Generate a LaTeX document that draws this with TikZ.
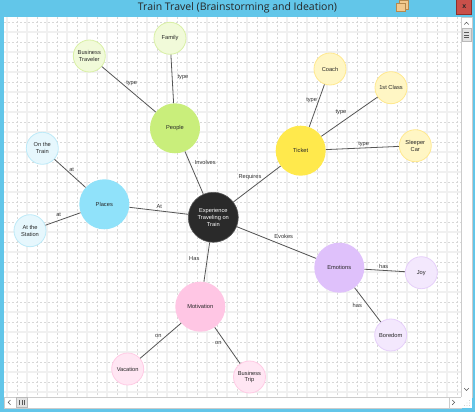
\documentclass[tikz,border=0pt]{standalone}
\usepackage{fontspec}
\setmainfont{Liberation Sans}
\newfontfamily\titlefont{Open Sans}
\definecolor{framec}{HTML}{62C6E9}
\definecolor{closered}{HTML}{C9504A}
\definecolor{closeedge}{HTML}{8E302B}
\definecolor{gridsolid}{HTML}{F0F0F0}
\definecolor{griddash}{HTML}{D8D8D8}
\definecolor{edgec}{HTML}{555555}
\definecolor{expfill}{HTML}{2A2A2A}
\definecolor{pplfill}{HTML}{C9EE7B}
\definecolor{pplleaf}{HTML}{F1FAD9}
\definecolor{pplrim}{HTML}{D9F0A6}
\definecolor{plcfill}{HTML}{90E2FA}
\definecolor{plcleaf}{HTML}{E6F7FD}
\definecolor{plcrim}{HTML}{BDEAF8}
\definecolor{tktfill}{HTML}{FFE94C}
\definecolor{tktleaf}{HTML}{FFF6C4}
\definecolor{tktrim}{HTML}{FFE98F}
\definecolor{emofill}{HTML}{DFC1FB}
\definecolor{emoleaf}{HTML}{F3E8FD}
\definecolor{emorim}{HTML}{E6CFFA}
\definecolor{motfill}{HTML}{FFC6E4}
\definecolor{motleaf}{HTML}{FFE6F3}
\definecolor{motrim}{HTML}{FFCBE5}
\definecolor{iconfill}{HTML}{F2C98E}
\definecolor{iconedge}{HTML}{B58A4F}
\begin{document}
\begin{tikzpicture}[x=1pt,y=-1pt,
  txt/.style={font=\fontsize{5.7}{6.7}\selectfont},
  hub/.style={circle, minimum size=50pt, inner sep=0pt, align=center, txt, text=black!85},
  leaf/.style={circle, minimum size=32pt, inner sep=0pt, align=center, line width=0.8pt, txt, text=black!85},
  lbl/.style={txt, inner sep=0.5pt, text=black!80},
  link/.style={draw=edgec, line width=0.8pt},
  chev/.style={draw=gray!70!black, line width=0.6pt}]
\useasboundingbox (0,0) rectangle (475,412);
% window frame
\fill[framec] (0,0) rectangle (475,412);
\fill[white] (4,17) rectangle (461,397);
% grid
\begin{scope}
\clip (4,17) rectangle (461,397);
\foreach \x in {7,27,...,467} \draw[gridsolid, line width=1.2pt] (\x,17) -- (\x,397);
\foreach \y in {12,32,...,412} \draw[gridsolid, line width=1.2pt] (4,\y) -- (461,\y);
\foreach \x in {17,37,...,467} \draw[griddash, line width=0.7pt, dash pattern=on 2pt off 2pt] (\x,17) -- (\x,397);
\foreach \y in {22,42,...,412} \draw[griddash, line width=0.7pt, dash pattern=on 2pt off 2pt] (4,\y) -- (461,\y);
\end{scope}
% title bar
\node[font=\titlefont\fontsize{10.5}{12}\selectfont, text=black!85, inner sep=0pt] (title) at (237.5,8) {Train Travel (Brainstorming and Ideation)};
\draw[iconedge, fill=iconfill, line width=0.5pt] (399.3,0.7) rectangle (408.7,9);
\draw[iconedge, fill=iconfill, line width=0.5pt] (396.3,3.3) rectangle (405,11.7);
\draw[closeedge, fill=closered, line width=0.6pt] (456.7,-1) rectangle (471.7,14.7);
\node[font=\fontsize{7}{8}\selectfont\bfseries, text=black!85, inner sep=0pt] (closex) at (464.2,7) {x};
% vertical scrollbar
\draw[gray!40, fill=white, line width=0.5pt] (461,17) rectangle (472,397);
\draw[chev] (464.2,24.5) -- (466.5,22.2) -- (468.8,24.5);
\draw[gray!55, fill=gray!22, line width=0.5pt] (462,28.3) rectangle (471,41.7);
\foreach \y in {32.5,35,37.5} \draw[gray!70!black, line width=0.6pt] (464.3,\y) -- (468.7,\y);
\draw[chev] (464.2,388.2) -- (466.5,390.5) -- (468.8,388.2);
% horizontal scrollbar
\draw[gray!40, fill=white, line width=0.5pt] (4,397) rectangle (461,408);
\draw[chev] (10.5,400) -- (8.2,402.4) -- (10.5,404.8);
\draw[gray!55, fill=gray!22, line width=0.5pt] (16.7,397.5) rectangle (27,407.5);
\foreach \x in {19.6,21.8,24} \draw[gray!70!black, line width=0.6pt] (\x,400.2) -- (\x,404.8);
\draw[gray!40, line width=0.5pt] (449,397) -- (449,408);
\draw[chev] (452.3,400) -- (454.6,402.4) -- (452.3,404.8);
\fill[white] (461,397) rectangle (472,408);
\foreach \p in {(469.5,405.5),(467,405.5),(469.5,403),(464.5,405.5),(467,403),(469.5,400.5)} \fill[gray!55] \p circle (0.45pt);
% hub nodes
\node[hub, fill=expfill, draw=gray!70!black, line width=0.6pt, text=white] (exp) at (213.3,217.3) {Experience\\Traveling on\\Train};
\node[hub, fill=pplfill] (people) at (175,128.3) {People};
\node[hub, fill=plcfill] (places) at (104.3,204.3) {Places};
\node[hub, fill=tktfill] (ticket) at (300.7,150.7) {Ticket};
\node[hub, fill=emofill] (emotions) at (339.3,267.7) {Emotions};
\node[hub, fill=motfill] (motivation) at (200.3,306.7) {Motivation};
% leaf nodes
\node[leaf, fill=pplleaf, draw=pplrim] (family) at (170,38.3) {Family};
\node[leaf, fill=pplleaf, draw=pplrim] (btrav) at (89.3,56) {Business\\Traveler};
\node[leaf, fill=plcleaf, draw=plcrim] (ontrain) at (42.3,148.3) {On the\\Train};
\node[leaf, fill=plcleaf, draw=plcrim] (atstation) at (30,230.7) {At the\\Station};
\node[leaf, fill=tktleaf, draw=tktrim] (coach) at (330,69) {Coach};
\node[leaf, fill=tktleaf, draw=tktrim] (first) at (391,87.7) {1st Class};
\node[leaf, fill=tktleaf, draw=tktrim] (sleeper) at (415.3,145.7) {Sleeper\\Car};
\node[leaf, fill=emoleaf, draw=emorim] (joy) at (421.3,272.7) {Joy};
\node[leaf, fill=emoleaf, draw=emorim] (boredom) at (390.7,335) {Boredom};
\node[leaf, fill=motleaf, draw=motrim] (vacation) at (127.7,369) {Vacation};
\node[leaf, fill=motleaf, draw=motrim] (btrip) at (249.5,377) {Business\\Trip};
% connectors
\draw[link] (exp) -- (people);
\draw[link] (exp) -- (places);
\draw[link] (exp) -- (ticket);
\draw[link] (exp) -- (emotions);
\draw[link] (exp) -- (motivation);
\draw[link] (people) -- (family);
\draw[link] (people) -- (btrav);
\draw[link] (places) -- (ontrain);
\draw[link] (places) -- (atstation);
\draw[link] (ticket) -- (coach);
\draw[link] (ticket) -- (first);
\draw[link] (ticket) -- (sleeper);
\draw[link] (emotions) -- (joy);
\draw[link] (emotions) -- (boredom);
\draw[link] (motivation) -- (vacation);
\draw[link] (motivation) -- (btrip);
% connector labels
\node[lbl] (l1) at (205.3,162) {Involves};
\node[lbl] (l2) at (159.3,207) {At};
\node[lbl] (l3) at (250,177.5) {Requires};
\node[lbl] (l4) at (283.7,236.7) {Evokes};
\node[lbl] (l5) at (194.3,258.3) {Has};
\node[lbl] (l6) at (183,77.3) {type};
\node[lbl] (l7) at (131.7,83.3) {type};
\node[lbl] (l8) at (71.7,169.7) {at};
\node[lbl] (l9) at (58.7,215) {at};
\node[lbl] (l10) at (311.7,100.7) {type};
\node[lbl] (l11) at (341,112) {type};
\node[lbl] (l12) at (363.7,144.3) {type};
\node[lbl] (l13) at (383.7,266.3) {has};
\node[lbl] (l14) at (357.3,305.7) {has};
\node[lbl] (l15) at (158.3,336) {on};
\node[lbl] (l16) at (218.3,342.7) {on};
\end{tikzpicture}
\end{document}
